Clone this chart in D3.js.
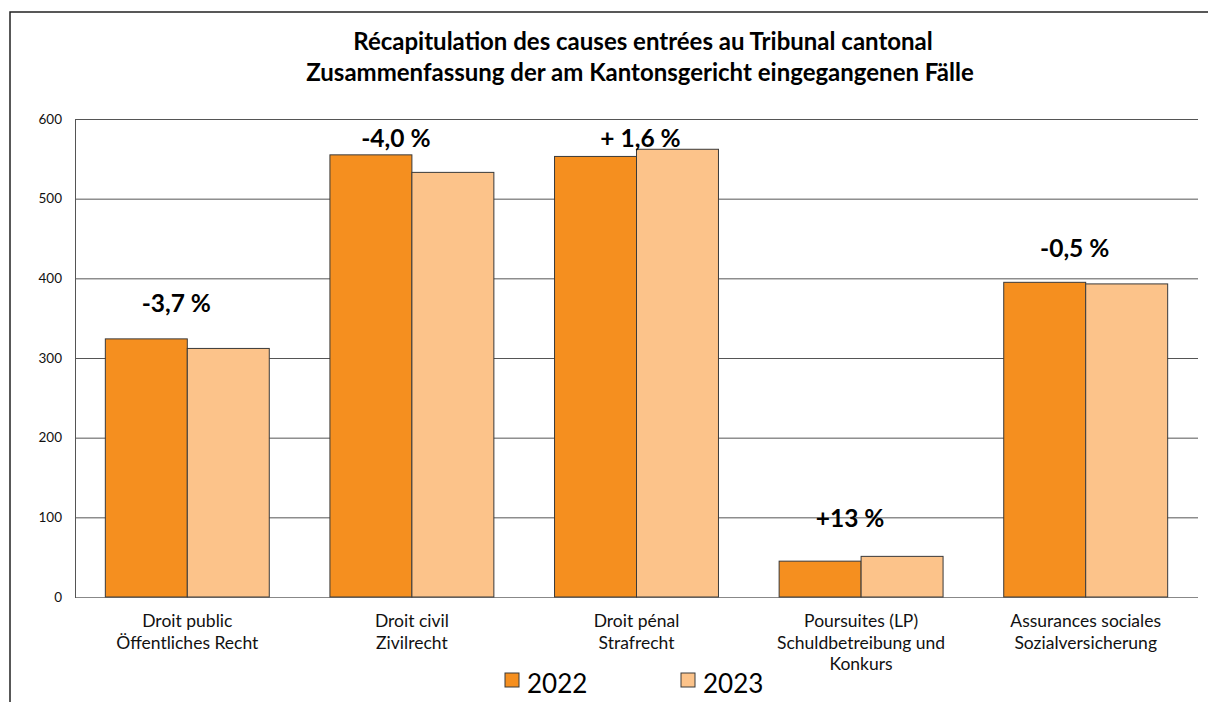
<!DOCTYPE html>
<html>
<head>
<meta charset="utf-8">
<script src="https://cdn.jsdelivr.net/npm/d3@7"></script>
<style>
  body { margin: 0; background: #fff; }
  svg { display: block; font-family: Lato, "Open Sans", sans-serif; }
</style>
</head>
<body>
<svg id="chart" width="1208" height="702"></svg>
<script>
// categories (two text lines, third line where the label wraps)
const categories = [
    ["Droit public", "Öffentliches Recht"],
    ["Droit civil", "Zivilrecht"],
    ["Droit pénal", "Strafrecht"],
    ["Poursuites (LP)", "Schuldbetreibung und", "Konkurs"],
    ["Assurances sociales", "Sozialversicherung"]
];
const years = ["2022", "2023"];
const values2022 = [324, 555, 553, 45, 395];
const values2023 = [312, 533, 562, 51, 393];
// change labels and the value height at which they sit
const changeLabels = ["-3,7 %", "-4,0 %", "+ 1,6 %", "+13 %", "-0,5 %"];
const changeLabelAt = [358, 565, 565, 88, 427];
const yTicks = [0, 100, 200, 300, 400, 500, 600];

const colors = { "2022": "#F58F1F", "2023": "#FCC38A" };

const svg = d3.select("#chart");
const plotLeft = 75, plotRight = 1198, plotTop = 119, plotBottom = 597;

// outer frame (top and left edges visible)
svg.append("path")
    .attr("d", "M10,702 L10,12 L1208,12")
    .attr("fill", "none")
    .attr("stroke", "#222")
    .attr("stroke-width", 1.5);

// title
const title = svg.append("text")
    .attr("text-anchor", "middle")
    .attr("font-weight", "bold")
    .attr("font-size", 24)
    .attr("fill", "#000");
title.append("tspan").attr("x", 643).attr("y", 50).text("Récapitulation des causes entrées au Tribunal cantonal");
title.append("tspan").attr("x", 640).attr("y", 81).text("Zusammenfassung der am Kantonsgericht eingegangenen Fälle");

const y = d3.scaleLinear().domain([0, 600]).range([plotBottom, plotTop]);
const x = d3.scaleBand().domain(d3.range(categories.length)).range([plotLeft, plotRight]).padding(0);
const xSub = d3.scaleBand().domain(years).range([0, x.bandwidth()]).paddingOuter(0.37).paddingInner(0);

// gridlines
svg.append("g").selectAll("line")
    .data(yTicks).join("line")
    .attr("x1", plotLeft).attr("x2", plotRight)
    .attr("y1", d => y(d) + 0.5).attr("y2", d => y(d) + 0.5)
    .attr("stroke", d => d === 0 ? "#888" : "#555")
    .attr("stroke-width", 1);

// y axis line
svg.append("line")
    .attr("x1", plotLeft + 0.5).attr("x2", plotLeft + 0.5)
    .attr("y1", plotTop).attr("y2", plotBottom + 1)
    .attr("stroke", "#555");

// y tick labels
svg.append("g").selectAll("text")
    .data(yTicks).join("text")
    .attr("x", 62).attr("y", d => y(d))
    .attr("dy", "0.35em")
    .attr("text-anchor", "end")
    .attr("font-size", 13.5)
    .attr("fill", "#111")
    .text(d => d);

// bars
const series = [
    { year: "2022", values: values2022 },
    { year: "2023", values: values2023 }
];
series.forEach(s => {
    svg.append("g").selectAll("rect")
        .data(s.values).join("rect")
        .attr("x", (d, i) => x(i) + xSub(s.year))
        .attr("y", d => y(d))
        .attr("width", xSub.bandwidth())
        .attr("height", d => y(0) - y(d))
        .attr("fill", colors[s.year])
        .attr("stroke", "#3a3a3a")
        .attr("stroke-width", 1);
});

// change labels
const labelShift = [-11, -16, 4, -11, -11];
svg.append("g").selectAll("text")
    .data(changeLabels).join("text")
    .attr("x", (d, i) => x(i) + x.bandwidth() / 2 + labelShift[i])
    .attr("y", (d, i) => y(changeLabelAt[i]))
    .attr("text-anchor", "middle")
    .attr("font-weight", "bold")
    .attr("font-size", 24.5)
    .attr("fill", "#000")
    .text(d => d);

// category labels
const catG = svg.append("g").selectAll("text")
    .data(categories).join("text")
    .attr("text-anchor", "middle")
    .attr("font-size", 17.5)
    .attr("fill", "#111");
catG.each(function(lines, i) {
    const t = d3.select(this);
    lines.forEach((line, j) => {
        t.append("tspan")
            .attr("x", x(i) + x.bandwidth() / 2)
            .attr("y", 627 + j * 21.5)
            .text(line);
    });
});

// legend
const legend = svg.append("g").selectAll("g")
    .data(years).join("g")
    .attr("transform", (d, i) => `translate(${505 + i * 176},673)`);
legend.append("rect")
    .attr("width", 14).attr("height", 14)
    .attr("fill", d => colors[d])
    .attr("stroke", "#3a3a3a");
legend.append("text")
    .attr("x", 22).attr("y", 20)
    .attr("font-size", 26)
    .attr("fill", "#000")
    .text(d => d);
</script>
</body>
</html>
